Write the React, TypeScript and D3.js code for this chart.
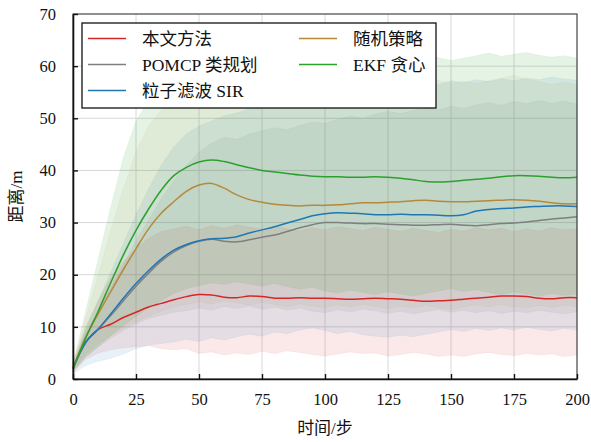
import React, { useRef, useEffect } from "react";
import * as d3 from "d3";

// time steps (x), every 5 steps
const steps = d3.range(0, 201, 5);

// 本文方法
const oursMean = [2.0, 7.0, 9.5, 10.5, 11.8, 12.8, 13.8, 14.5, 15.2, 15.8, 16.2, 16.1, 15.7, 15.6, 15.9, 15.8, 15.5, 15.5, 15.6, 15.5, 15.5, 15.4, 15.3, 15.4, 15.5, 15.4, 15.3, 15.1, 14.9, 15.0, 15.1, 15.3, 15.5, 15.7, 15.9, 15.9, 15.8, 15.5, 15.4, 15.6, 15.6];
const oursLo = [1.2, 3.8, 5.0, 5.6, 6.0, 6.2, 6.4, 5.8, 5.6, 5.8, 4.9, 5.2, 4.6, 5.0, 4.7, 5.3, 4.9, 5.4, 5.1, 4.7, 4.4, 4.8, 5.2, 4.9, 5.0, 4.4, 4.7, 5.1, 4.8, 4.3, 4.6, 4.3, 4.8, 5.1, 4.7, 4.5, 4.9, 4.6, 4.8, 4.3, 4.6];
const oursHi = [3.0, 10.0, 15.0, 19.5, 22.5, 25.0, 27.0, 28.3, 28.8, 29.3, 28.6, 29.4, 28.9, 29.6, 29.1, 28.7, 29.3, 28.8, 28.4, 29.0, 28.6, 29.2, 28.9, 28.5, 29.1, 28.7, 28.3, 28.9, 28.5, 28.1, 28.7, 28.4, 29.0, 28.6, 28.9, 28.3, 28.8, 28.4, 29.0, 28.6, 28.8];

// POMCP 类规划
const pomcpMean = [2.0, 7.0, 9.5, 12.2, 15.0, 17.8, 20.3, 22.6, 24.4, 25.6, 26.4, 26.8, 26.4, 26.3, 26.7, 27.2, 27.6, 28.3, 29.0, 29.6, 30.0, 30.0, 29.9, 29.8, 29.8, 29.7, 29.6, 29.5, 29.5, 29.6, 29.7, 29.5, 29.4, 29.6, 29.8, 29.9, 30.1, 30.4, 30.7, 30.9, 31.1];
const pomcpLo = [1.5, 4.2, 6.2, 7.8, 9.3, 10.6, 11.6, 12.2, 12.8, 13.1, 13.6, 13.2, 13.9, 13.5, 14.0, 13.4, 13.8, 13.2, 13.6, 13.0, 12.7, 13.3, 12.9, 13.4, 13.1, 12.6, 13.0, 12.5, 12.9, 13.3, 12.8, 13.2, 12.7, 13.1, 12.6, 13.0, 12.7, 13.2, 12.8, 12.5, 12.9];
const pomcpHi = [2.5, 9.0, 13.0, 17.5, 22.0, 26.5, 30.5, 34.5, 38.0, 41.0, 43.5, 45.2, 46.3, 46.0, 47.0, 47.6, 48.2, 47.8, 48.6, 49.3, 49.0, 49.8, 50.4, 50.0, 50.8, 51.3, 50.9, 51.5, 52.0, 51.6, 52.3, 51.9, 52.6, 53.0, 52.5, 53.2, 52.8, 53.4, 52.9, 53.3, 52.7];

// 粒子滤波 SIR
const sirMean = [2.0, 7.0, 9.6, 12.5, 15.5, 18.3, 20.8, 23.0, 24.7, 25.8, 26.5, 26.9, 27.0, 27.3, 28.0, 28.6, 29.2, 29.9, 30.6, 31.3, 31.7, 31.9, 31.8, 31.7, 31.5, 31.5, 31.6, 31.5, 31.5, 31.4, 31.3, 31.5, 32.2, 32.5, 32.7, 32.8, 33.0, 33.1, 33.2, 33.2, 33.1];
const sirLo = [1.0, 2.6, 3.4, 4.0, 4.8, 5.8, 6.5, 6.8, 7.1, 7.6, 7.2, 7.9, 7.5, 8.1, 8.6, 8.2, 9.0, 8.7, 9.4, 9.8, 9.3, 8.7, 9.1, 8.5, 8.2, 8.0, 8.4, 8.1, 8.6, 9.0, 9.5, 9.1, 9.7, 9.3, 9.8, 9.4, 9.9, 9.5, 9.2, 9.7, 9.4];
const sirHi = [2.5, 9.5, 15.0, 20.5, 26.0, 31.5, 36.5, 41.0, 44.5, 47.0, 48.5, 49.5, 50.5, 51.0, 51.8, 52.3, 53.0, 53.4, 54.0, 54.5, 55.0, 55.3, 55.8, 55.5, 56.0, 56.4, 56.1, 56.6, 56.9, 56.5, 57.2, 56.8, 57.4, 57.0, 57.6, 57.2, 57.7, 57.4, 57.9, 57.5, 57.3];

// 随机策略
const randMean = [2.0, 8.0, 12.5, 16.8, 21.0, 25.0, 28.8, 31.8, 34.0, 36.0, 37.2, 37.5, 36.6, 35.3, 34.4, 33.9, 33.5, 33.3, 33.2, 33.3, 33.3, 33.4, 33.6, 33.8, 33.8, 33.9, 34.0, 34.2, 34.3, 34.1, 34.0, 34.0, 34.1, 34.2, 34.3, 34.4, 34.3, 34.1, 33.8, 33.6, 33.6];
const randLo = [1.5, 4.8, 6.8, 8.3, 9.8, 11.0, 12.0, 13.0, 13.8, 14.3, 14.8, 14.4, 15.0, 14.6, 14.2, 14.7, 14.3, 13.9, 14.4, 14.0, 13.7, 14.2, 13.8, 14.3, 13.9, 13.5, 14.0, 13.6, 14.1, 13.7, 13.3, 13.8, 14.2, 13.8, 14.3, 13.9, 13.6, 14.1, 13.7, 14.2, 13.8];
const randHi = [2.5, 11.5, 20.0, 28.5, 36.5, 43.5, 48.5, 51.5, 53.5, 54.5, 55.3, 55.9, 56.4, 55.8, 56.6, 57.1, 56.5, 57.0, 56.4, 56.9, 57.3, 56.7, 57.2, 56.6, 57.0, 56.3, 56.8, 57.4, 57.9, 57.2, 56.7, 57.1, 56.6, 57.2, 57.7, 58.2, 57.5, 57.0, 56.5, 56.9, 56.4];

// EKF 贪心
const ekfMean = [2.0, 7.8, 13.0, 18.5, 23.8, 28.5, 32.6, 36.2, 39.0, 40.6, 41.6, 42.0, 41.7, 41.1, 40.5, 40.0, 39.7, 39.4, 39.1, 38.9, 38.8, 38.8, 38.7, 38.7, 38.8, 38.7, 38.5, 38.2, 37.9, 37.8, 37.9, 38.1, 38.3, 38.5, 38.8, 39.0, 39.0, 38.9, 38.7, 38.6, 38.7];
const ekfLo = [1.5, 4.2, 6.2, 8.3, 10.2, 12.0, 13.6, 15.0, 16.4, 17.3, 17.9, 18.4, 18.1, 18.6, 18.2, 17.8, 18.3, 17.7, 17.2, 17.6, 16.9, 16.5, 17.0, 16.6, 16.2, 16.7, 16.3, 15.9, 16.4, 16.9, 17.3, 16.8, 17.1, 16.6, 16.2, 16.7, 16.3, 15.9, 16.4, 16.0, 16.3];
const ekfHi = [3.0, 13.0, 23.0, 33.0, 42.5, 49.5, 53.5, 56.5, 58.3, 59.5, 60.3, 60.9, 61.5, 61.0, 61.8, 62.2, 61.6, 62.1, 61.5, 61.0, 61.6, 62.0, 61.4, 61.9, 62.4, 61.8, 61.3, 61.7, 62.2, 61.6, 61.1, 61.5, 62.0, 62.5, 61.9, 62.3, 62.6, 62.1, 61.7, 62.0, 61.5];

const xTicks = [0, 25, 50, 75, 100, 125, 150, 175, 200];
const yTicks = [0, 10, 20, 30, 40, 50, 60, 70];

const series = [
  { name: "本文方法", color: "#d62728", alpha: 0.1, mean: oursMean, lo: oursLo, hi: oursHi },
  { name: "POMCP 类规划", color: "#7f7f7f", alpha: 0.1, mean: pomcpMean, lo: pomcpLo, hi: pomcpHi },
  { name: "粒子滤波 SIR", color: "#1f77b4", alpha: 0.1, mean: sirMean, lo: sirLo, hi: sirHi },
  { name: "随机策略", color: "#b5893a", alpha: 0.08, mean: randMean, lo: randLo, hi: randHi },
  { name: "EKF 贪心", color: "#2ca02c", alpha: 0.12, mean: ekfMean, lo: ekfLo, hi: ekfHi },
];

const FONT = '"Liberation Serif", "Noto Sans CJK SC", serif';

const Chart = () => {
  const svgRef = useRef<SVGSVGElement>(null);

  useEffect(() => {
    const svg = d3.select(svgRef.current);
    svg.selectAll("*").remove();

    const left = 73, right = 577, top = 14, bottom = 379;
    const x = d3.scaleLinear().domain([0, 200]).range([left, right]);
    const y = d3.scaleLinear().domain([0, 70]).range([bottom, top]);

    // grid
    const grid = svg.append("g");
    grid.selectAll(".gx").data(xTicks).enter().append("line")
      .attr("x1", (d) => x(d)).attr("x2", (d) => x(d))
      .attr("y1", top).attr("y2", bottom)
      .attr("stroke", "#d8d8d8").attr("stroke-width", 1);
    grid.selectAll(".gy").data(yTicks).enter().append("line")
      .attr("x1", left).attr("x2", right)
      .attr("y1", (d) => y(d)).attr("y2", (d) => y(d))
      .attr("stroke", "#d8d8d8").attr("stroke-width", 1);

    // shaded bands (mean ± spread)
    series.forEach((s) => {
      const area = d3.area<number>()
        .x((d) => x(d))
        .y0((_, i) => y(s.lo[i]))
        .y1((_, i) => y(s.hi[i]));
      svg.append("path")
        .attr("d", area(steps))
        .attr("fill", s.color)
        .attr("fill-opacity", s.alpha)
        .attr("stroke", s.color)
        .attr("stroke-opacity", 0.06);
    });

    // mean lines
    series.forEach((s) => {
      const line = d3.line<number>()
        .x((d) => x(d))
        .y((_, i) => y(s.mean[i]))
        .curve(d3.curveCatmullRom.alpha(0.5));
      svg.append("path")
        .attr("d", line(steps))
        .attr("fill", "none")
        .attr("stroke", s.color)
        .attr("stroke-width", 1.5);
    });

    // frame
    svg.append("rect")
      .attr("x", left).attr("y", top)
      .attr("width", right - left).attr("height", bottom - top)
      .attr("fill", "none").attr("stroke", "#333").attr("stroke-width", 1);

    // axes
    const xAxis = svg.append("g")
      .attr("transform", `translate(0,${bottom})`)
      .call(d3.axisBottom(x).tickValues(xTicks).tickSizeInner(-5).tickSizeOuter(0).tickPadding(14));
    const yAxis = svg.append("g")
      .attr("transform", `translate(${left},0)`)
      .call(d3.axisLeft(y).tickValues(yTicks).tickSizeInner(-5).tickSizeOuter(0).tickPadding(17));
    [xAxis, yAxis].forEach((a) => {
      a.select(".domain").attr("stroke", "#111").attr("stroke-width", 1.6);
      a.selectAll(".tick line").attr("stroke", "#111").attr("stroke-width", 1.4);
      a.selectAll("text").attr("font-family", FONT).attr("font-size", 16.5).attr("fill", "#111");
    });

    // axis titles
    svg.append("text")
      .attr("x", (left + right) / 2).attr("y", 434)
      .attr("text-anchor", "middle")
      .attr("font-family", FONT).attr("font-size", 17).attr("fill", "#111")
      .text("时间/步");
    svg.append("text")
      .attr("transform", `translate(22,${(top + bottom) / 2}) rotate(-90)`)
      .attr("text-anchor", "middle")
      .attr("font-family", FONT).attr("font-size", 17).attr("fill", "#111")
      .text("距离/m");

    // legend
    const lg = svg.append("g");
    lg.append("rect")
      .attr("x", 82).attr("y", 23).attr("width", 354).attr("height", 85)
      .attr("fill", "#fff").attr("stroke", "#111").attr("stroke-width", 1.3);
    series.forEach((s, i) => {
      const col = i < 3 ? 0 : 1;
      const row = i < 3 ? i : i - 3;
      const lx = col === 0 ? 88 : 299;
      const ly = 38.5 + row * 26;
      lg.append("line")
        .attr("x1", lx).attr("x2", lx + 38)
        .attr("y1", ly).attr("y2", ly)
        .attr("stroke", s.color).attr("stroke-width", 1.5);
      lg.append("text")
        .attr("x", col === 0 ? 142 : 353).attr("y", ly + 6)
        .attr("font-family", FONT).attr("font-size", 17.5).attr("fill", "#111")
        .text(s.name);
    });
  }, []);

  return <svg ref={svgRef} width={591} height={442} style={{ display: "block" }}></svg>;
};

export default function App() {
  return (
    <div style={{ position: "absolute", left: 0, top: 0 }}>
      <Chart />
    </div>
  );
}
